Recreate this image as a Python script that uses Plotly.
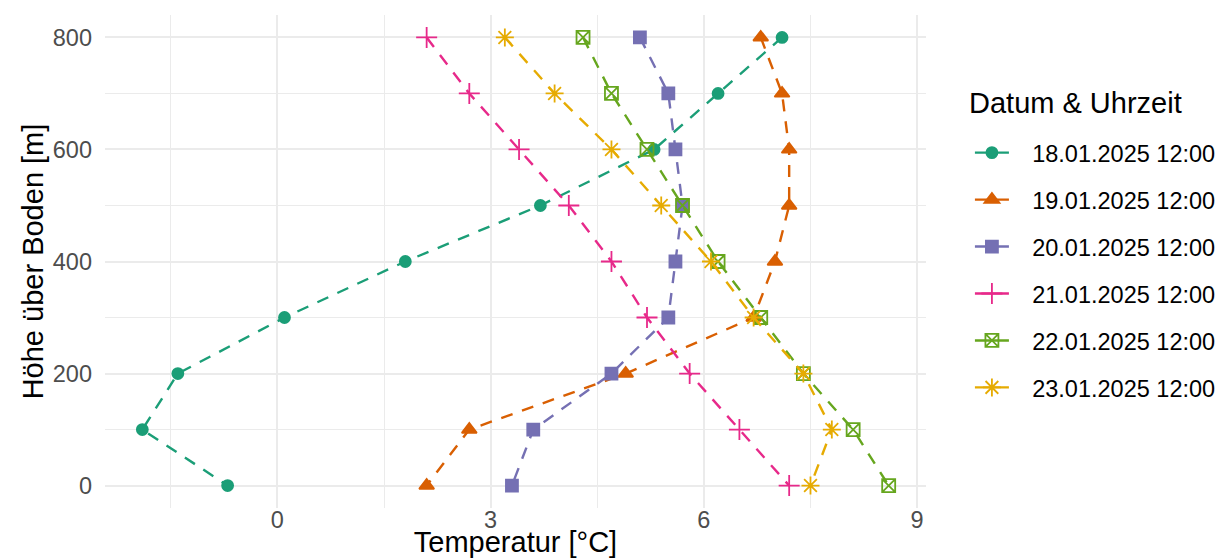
import plotly.graph_objects as go

heights = [800, 700, 600, 500, 400, 300, 200, 100, 0]
series_names = ["18.01.2025 12:00", "19.01.2025 12:00", "20.01.2025 12:00",
                "21.01.2025 12:00", "22.01.2025 12:00", "23.01.2025 12:00"]
t_18 = [7.1, 6.2, 5.3, 3.7, 1.8, 0.1, -1.4, -1.9, -0.7]
t_19 = [6.8, 7.1, 7.2, 7.2, 7.0, 6.7, 4.9, 2.7, 2.1]
t_20 = [5.1, 5.5, 5.6, 5.7, 5.6, 5.5, 4.7, 3.6, 3.3]
t_21 = [2.1, 2.7, 3.4, 4.1, 4.7, 5.2, 5.8, 6.5, 7.2]
t_22 = [4.3, 4.7, 5.2, 5.7, 6.2, 6.8, 7.4, 8.1, 8.6]
t_23 = [3.2, 3.9, 4.7, 5.4, 6.1, 6.7, 7.4, 7.8, 7.5]
temps = [t_18, t_19, t_20, t_21, t_22, t_23]
legend_title = "Datum & Uhrzeit"

colors = ["#1B9E77", "#D95F02", "#7570B3", "#E7298A", "#66A61E", "#E6AB02"]
symbols = ["circle", "triangle-up", "square", "cross-thin-open", "square-x-open", "asterisk-open"]
sizes = [11, 13, 12, 15, 13, 15]

fig = go.Figure()
for name, t, c, s, sz in zip(series_names, temps, colors, symbols, sizes):
    fig.add_trace(go.Scatter(
        x=t, y=heights, name=name, mode="lines+markers",
        line=dict(color=c, width=2.4, dash="12px,10px"),
        marker=dict(symbol=s, size=sz, color=c, line=dict(color=c, width=1.8)),
        legendgroup=name, showlegend=False,
    ))
# legend entries with solid keys (as in the reference)
for name, c, s, sz in zip(series_names, colors, symbols, sizes):
    fig.add_trace(go.Scatter(
        x=[None], y=[None], name="\u2002\u00a0" + name, mode="lines+markers",
        line=dict(color=c, width=2.4),
        marker=dict(symbol=s, size=sz, color=c, line=dict(color=c, width=1.8)),
        legendgroup=name, showlegend=True,
    ))

grid = "#EBEBEB"
fig.update_layout(
    width=1220, height=550,
    margin=dict(l=97, r=296, t=7, b=50),
    plot_bgcolor="white", paper_bgcolor="white",
    font=dict(family="Liberation Sans, Arial, sans-serif", size=23.5, color="#4D4D4D"),
    legend=dict(
        font=dict(size=23.5, color="black"),
        x=1.0535, xanchor="left", y=0.765, yanchor="top",
        tracegroupgap=13.4, traceorder="grouped",
        itemwidth=34,
    ),
    annotations=[dict(
        text=legend_title, xref="paper", yref="paper", x=1.0495, y=0.8215,
        xanchor="left", yanchor="middle", showarrow=False,
        font=dict(size=29, color="black"),
    )],
    xaxis=dict(
        range=[-2.425, 9.125], tick0=0, dtick=3, automargin=False,
        showgrid=True, gridcolor=grid, gridwidth=2,
        minor=dict(dtick=1.5, tick0=0, showgrid=True, gridcolor=grid, gridwidth=1),
        zeroline=False, showline=False, ticks="",
        ticklabelstandoff=-5,
        title=dict(text="Temperatur [°C]", font=dict(size=29, color="black"), standoff=8),
    ),
    yaxis=dict(
        range=[-40, 840], tick0=0, dtick=200, automargin=False,
        showgrid=True, gridcolor=grid, gridwidth=2,
        minor=dict(dtick=100, tick0=0, showgrid=True, gridcolor=grid, gridwidth=1),
        zeroline=False, showline=False, ticks="",
        ticklabelstandoff=12,
        title=dict(text="Höhe über Boden [m]", font=dict(size=29, color="black"), standoff=0),
    ),
)

fig.write_html("out.html", config={"displayModeBar": False})
